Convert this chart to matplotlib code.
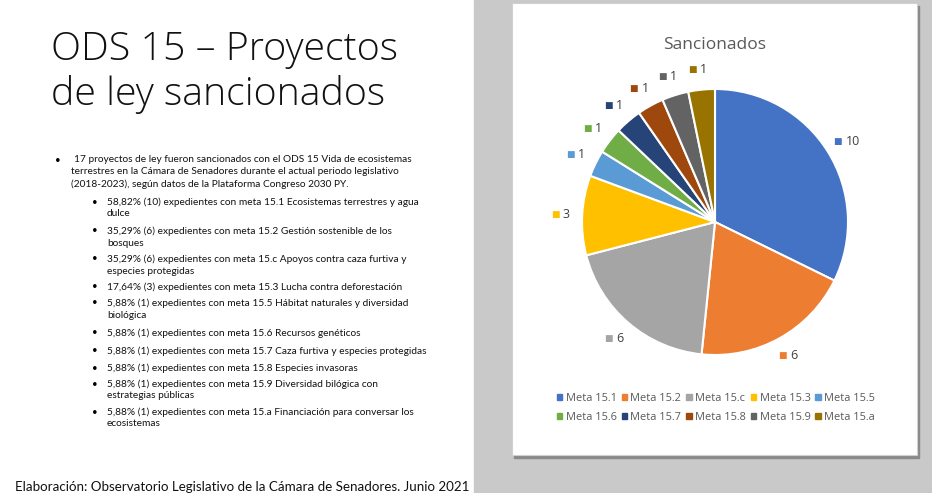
import matplotlib.pyplot as plt
from matplotlib.patches import Rectangle
import numpy as np

# Datos del grafico
metas = ["Meta 15.1", "Meta 15.2", "Meta 15.c", "Meta 15.3", "Meta 15.5",
         "Meta 15.6", "Meta 15.7", "Meta 15.8", "Meta 15.9", "Meta 15.a"]
cantidades = [10, 6, 6, 3, 1, 1, 1, 1, 1, 1]
colores = ["#4472C4", "#ED7D31", "#A5A5A5", "#FFC000", "#5B9BD5",
           "#70AD47", "#264478", "#9E480E", "#636363", "#997300"]

titulo = ["ODS 15 \u2013 Proyectos", "de ley sancionados"]
intro = ["17 proyectos de ley fueron sancionados con el ODS 15 Vida de ecosistemas",
         "terrestres en la C\u00e1mara de Senadores durante el actual periodo legislativo",
         "(2018-2023), seg\u00fan datos de la Plataforma Congreso 2030 PY."]
items = [
    ["58,82% (10) expedientes con meta 15.1 Ecosistemas terrestres y agua", "dulce"],
    ["35,29% (6) expedientes con meta 15.2 Gesti\u00f3n sostenible de los", "bosques"],
    ["35,29% (6) expedientes con meta 15.c Apoyos contra caza furtiva y", "especies protegidas"],
    ["17,64% (3) expedientes con meta 15.3 Lucha contra deforestaci\u00f3n"],
    ["5,88% (1) expedientes con meta 15.5 H\u00e1bitat naturales y diversidad", "biol\u00f3gica"],
    ["5,88% (1) expedientes con meta 15.6 Recursos gen\u00e9ticos"],
    ["5,88% (1) expedientes con meta 15.7 Caza furtiva y especies protegidas"],
    ["5,88% (1) expedientes con meta 15.8 Especies invasoras"],
    ["5,88% (1) expedientes con meta 15.9 Diversidad bil\u00f3gica con", "estrategias p\u00fablicas"],
    ["5,88% (1) expedientes con meta 15.a Financiaci\u00f3n para conversar los", "ecosistemas"],
]
item_y = [202, 231, 259, 287, 303, 333, 351, 368, 384, 412]
fuente = "Elaboraci\u00f3n: Observatorio Legislativo de la C\u00e1mara de Senadores. Junio 2021"

W, H = 932, 493
fig = plt.figure(figsize=(W / 100, H / 100), dpi=100)
fig.patch.set_facecolor("white")

def fx(x):
    return x / W

def fy(y):
    return 1 - y / H

# panel gris y tarjeta
fig.patches.append(Rectangle((fx(474), 0), 1 - fx(474), 1, transform=fig.transFigure,
                             color="#C8C9C8", zorder=0))
fig.patches.append(Rectangle((fx(514), fy(458)), fx(405), (455 - 3) / H, transform=fig.transFigure,
                             color="#8A8A8A", zorder=0.5))
fig.patches.append(Rectangle((fx(512), fy(455)), fx(405), (455 - 3) / H, transform=fig.transFigure,
                             facecolor="white", edgecolor="#D0D0D0", lw=0.8, zorder=1))

# texto izquierdo
fuente_txt = "Lato"
fig.text(fx(51), fy(50), titulo[0], fontsize=28.3, family="Open Sans", weight="light",
         va="center", color="#111111")
fig.text(fx(51), fy(95), titulo[1], fontsize=28.3, family="Open Sans", weight="light",
         va="center", color="#111111")

fig.text(fx(55), fy(160), "\u2022", fontsize=7, family=fuente_txt, va="center")
for i, linea in enumerate(intro):
    x0 = 74 if i == 0 else 71
    fig.text(fx(x0), fy(160 + 12 * i), linea, fontsize=7.3, family=fuente_txt,
             va="center", color="#111111")

for y0, lineas in zip(item_y, items):
    fig.text(fx(92), fy(y0), "\u2022", fontsize=7, family=fuente_txt, va="center")
    for j, linea in enumerate(lineas):
        fig.text(fx(107), fy(y0 + 12 * j), linea, fontsize=7.3, family=fuente_txt,
                 va="center", color="#111111")

fig.text(fx(15), fy(487), fuente, fontsize=9.6, family=fuente_txt, va="center", color="#111111")

# grafico de torta
cx, cy, r = 715, 222, 133
ax = fig.add_axes([fx(cx - r), fy(cy + r), 2 * r / W, 2 * r / H])
wedges, _ = ax.pie(cantidades, colors=colores, startangle=90, counterclock=False,
                   wedgeprops=dict(edgecolor="white", linewidth=1.5))
ax.set_xlim(-1, 1)
ax.set_ylim(-1, 1)
ax.set_zorder(2)

for w, c, val in zip(wedges, colores, cantidades):
    ang = np.deg2rad((w.theta1 + w.theta2) / 2)
    px, py = 1.15 * np.cos(ang), 1.15 * np.sin(ang)
    ax.annotate("\u25a0", (px, py), xytext=(-5, 0), textcoords="offset points",
                ha="center", va="center", fontsize=6.5, color=c, annotation_clip=False,
                family="DejaVu Sans")
    ax.annotate(str(val), (px, py), xytext=(0.5, 0), textcoords="offset points",
                ha="left", va="center", fontsize=9, color="#404040", annotation_clip=False,
                family="Open Sans")

fig.text(fx(715), fy(45), "Sancionados", fontsize=12.5, family="Open Sans", color="#595959",
         ha="center", va="center", zorder=3)

# leyenda en orden por filas
orden = [0, 5, 1, 6, 2, 7, 3, 8, 4, 9]
handles = [Rectangle((0, 0), 1, 1, color=colores[i]) for i in orden]
labels = [metas[i] for i in orden]
leg = fig.legend(handles, labels, ncol=5, loc="center", bbox_to_anchor=(fx(716), fy(408)),
                 frameon=False, handlelength=0.5, handleheight=0.5,
                 handletextpad=0.3, columnspacing=0.45, labelspacing=0.7,
                 prop=dict(family="Open Sans", size=7.9))
for t in leg.get_texts():
    t.set_color("#595959")
leg.set_zorder(3)

fig.savefig("out.png", dpi=100)
